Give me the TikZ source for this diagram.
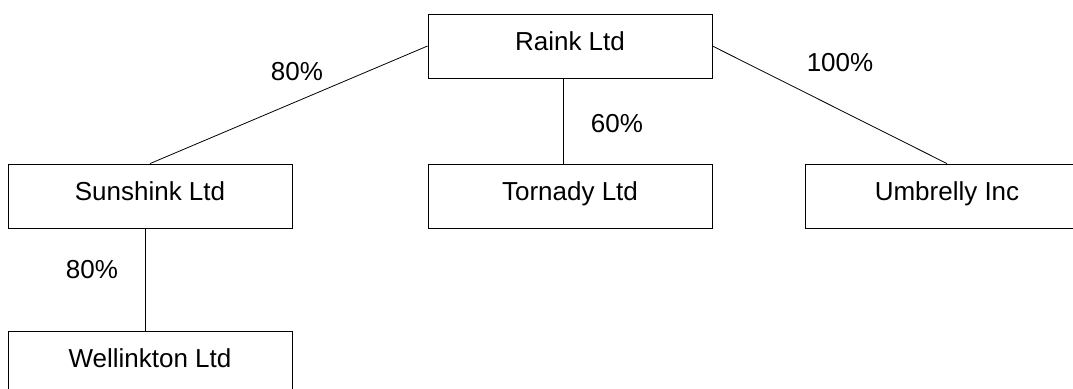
\documentclass[tikz,border=0pt]{standalone}
\usepackage{fontspec}
\setmainfont{Liberation Sans}
\tikzset{
line width=1pt,
company/.style={draw, minimum width=142pt, minimum height=32pt, inner sep=0pt, text height=0.72em, text depth=0.3em},
share/.style={inner sep=0pt},
}

\begin{document}
\begin{tikzpicture}[x=0.5pt, y=-0.5pt, font=\fontsize{13pt}{15pt}\selectfont]
        \useasboundingbox (0,0) rectangle (1073,389);
        \node[company] (raink) at (570,46) {Raink Ltd};
        \node[company,below of=raink,node distance=75pt] (tornady) {Tornady Ltd};
        \node[company,left of=tornady,node distance=210pt] (sunshink) {Sunshink Ltd};
        \node[company,right of=tornady,node distance=188.5pt] (umbrelly) {Umbrelly Inc};
        \node[company,below of=sunshink,node distance=83.5pt] (wellinkton) {Wellinkton Ltd};

        \draw (raink.west) -- (sunshink.north);
        \draw ([xshift=-3.5pt]raink.south) -- ([xshift=-3.5pt]tornady.north);
        \draw (raink.east) -- (umbrelly.north);
        \draw ([xshift=-2.5pt]sunshink.south) -- ([xshift=-2.5pt]wellinkton.north);

        \node[share] (rs) at (297,72) {80\%};
        \node[share] (rt) at (617,124) {60\%};
        \node[share] (ru) at (840,63) {100\%};
        \node[share] (sw) at (92,270) {80\%};
    \end{tikzpicture}
\end{document}
